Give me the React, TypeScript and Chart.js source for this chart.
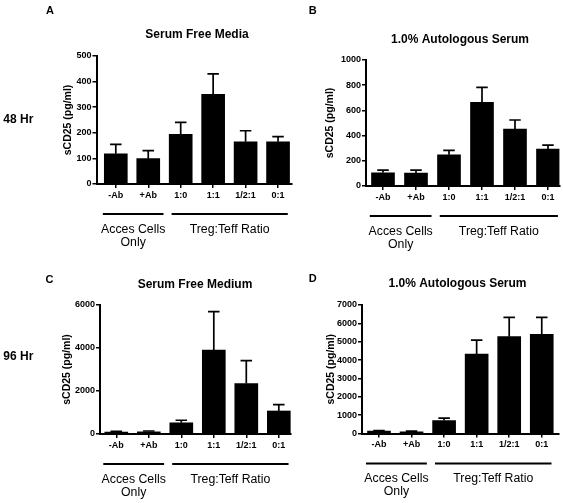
import React, { useEffect, useRef } from "react";
import { Chart, registerables } from "chart.js";

Chart.register(...registerables);

const FONT = "'Liberation Sans', Arial, Helvetica, sans-serif";

// ---------- data ----------
const categories = ["-Ab", "+Ab", "1:0", "1:1", "1/2:1", "0:1"];
const groupLabels = [["Acces Cells", "Only"], ["Treg:Teff Ratio"]];
const groupMembers = [
  [0, 1],
  [2, 5],
];
const yAxisTitle = "sCD25 (pg/ml)";
const rowLabels = ["48 Hr", "96 Hr"];
const panelLetters = ["A", "B", "C", "D"];
const panelTitles = [
  "Serum Free Media",
  "1.0% Autologous Serum",
  "Serum Free Medium",
  "1.0% Autologous Serum",
];

// 48 Hr, serum free media
const meanA = [118, 99, 194, 350, 165, 165];
const semA = [37, 31, 47, 80, 43, 20];
// 48 Hr, 1.0% autologous serum
const meanB = [105, 102, 248, 664, 452, 294];
const semB = [21, 24, 35, 119, 72, 31];
// 96 Hr, serum free medium
const meanC = [90, 100, 520, 3900, 2350, 1070];
const semC = [35, 40, 120, 1790, 1060, 300];
// 96 Hr, 1.0% autologous serum
const meanD = [127, 91, 709, 4327, 5273, 5400];
const semD = [37, 36, 127, 763, 1054, 927];

const yMaxes = [500, 1000, 6000, 7000];
const ySteps = [100, 200, 2000, 1000];

// ---------- layout (page pixels) ----------
const layouts = [
  {
    canvas: { left: 0, top: 0, w: 300, h: 252 },
    area: { l: 96.5, r: 292, t: 56, b: 184 },
    yTitleX: 68,
    titleX: 197,
    titleY: 35,
    x0: 115.8,
    sp: 32.45,
  },
  {
    canvas: { left: 300, top: 0, w: 263, h: 252 },
    area: { l: 366, r: 559.5, t: 60, b: 186 },
    yTitleX: 330,
    titleX: 460,
    titleY: 40,
    x0: 383,
    sp: 33,
  },
  {
    canvas: { left: 0, top: 252, w: 300, h: 251 },
    area: { l: 100, r: 291, t: 305, b: 434 },
    yTitleX: 67,
    titleX: 195,
    titleY: 284.3,
    x0: 116.3,
    sp: 32.5,
  },
  {
    canvas: { left: 300, top: 252, w: 263, h: 251 },
    area: { l: 362, r: 558.5, t: 305, b: 433.5 },
    yTitleX: 331,
    titleX: 457.5,
    titleY: 283.3,
    x0: 379,
    sp: 32.55,
  },
];
const groupPad = [
  [0.4, 0.47],
  [0.28, 0.3],
];
const letterPos = [
  [50, 10],
  [312.7, 10],
  [49.5, 278.5],
  [312.7, 278.3],
];
const rowPos = [
  [18.3, 119.3],
  [18.3, 356],
];

const means = [meanA, meanB, meanC, meanD];
const sems = [semA, semB, semC, semD];

function Panel({ idx }: { idx: number }) {
  const ref = useRef<HTMLCanvasElement>(null);
  const p = layouts[idx];
  useEffect(() => {
    if (!ref.current) return;
    const c = p.canvas;
    const a = p.area;
    const mean = means[idx];
    const sem = sems[idx];
    const L = a.l - c.left;
    const R = a.r - c.left;
    const T = a.t - c.top;
    const B = a.b - c.top;
    const titleSize = 10.5;
    const pl = p.yTitleX - c.left - (titleSize * 1.2) / 2;
    const Wy = L - pl;
    const Hx = 24;
    const pb = c.h - B - Hx;
    const pr = c.w - R;
    const xmin = (a.l - p.x0) / p.sp;
    const xmax = (a.r - p.x0) / p.sp;

    const overlay = {
      id: "overlay",
      afterDatasetsDraw(chart: any) {
        const ctx = chart.ctx;
        const meta = chart.getDatasetMeta(0);
        const ys = chart.scales.y;
        ctx.save();
        ctx.strokeStyle = "#000";
        ctx.lineWidth = 1.7;
        meta.data.forEach((bar: any, i: number) => {
          const top = ys.getPixelForValue(mean[i]);
          const e = ys.getPixelForValue(mean[i] + sem[i]);
          const hw = bar.width / 4;
          ctx.beginPath();
          ctx.moveTo(bar.x, top);
          ctx.lineTo(bar.x, e);
          ctx.moveTo(bar.x - hw, e);
          ctx.lineTo(bar.x + hw, e);
          ctx.stroke();
        });
        ctx.restore();
      },
      afterDraw(chart: any) {
        const ctx = chart.ctx;
        const xs = chart.scales.x;
        const area = chart.chartArea;
        ctx.save();
        ctx.fillStyle = "#000";
        ctx.strokeStyle = "#000";
        ctx.textAlign = "center";
        ctx.textBaseline = "middle";
        ctx.font = `bold 12px ${FONT}`;
        ctx.fillText(panelTitles[idx], p.titleX - c.left, p.titleY - c.top);
        ctx.font = `12.3px ${FONT}`;
        ctx.lineWidth = 2;
        const lineY = area.bottom + 30;
        groupMembers.forEach(([f, l], g) => {
          const x1 = xs.getPixelForValue(f - groupPad[g][0]);
          const x2 = Math.min(xs.getPixelForValue(l + groupPad[g][1]), area.right);
          ctx.beginPath();
          ctx.moveTo(x1, lineY);
          ctx.lineTo(x2, lineY);
          ctx.stroke();
          const mid = (x1 + x2) / 2;
          groupLabels[g].forEach((t, k) => {
            ctx.fillText(t, mid, area.bottom + 45.3 + k * 13.2);
          });
        });
        ctx.restore();
      },
    };

    const tickFont = { family: FONT, size: 9, weight: "bold" as const };
    const chart = new Chart(ref.current, {
      type: "bar",
      data: {
        datasets: [
          {
            data: mean.map((v, i) => ({ x: i, y: v })),
            backgroundColor: "#000",
            borderWidth: 0,
            barThickness: 23,
          },
        ],
      },
      options: {
        animation: false,
        responsive: false,
        devicePixelRatio: 1,
        layout: { padding: { left: pl, right: pr, top: T, bottom: pb } },
        plugins: {
          legend: { display: false },
          tooltip: { enabled: false },
          title: { display: false },
        },
        scales: {
          x: {
            type: "linear",
            min: xmin,
            max: xmax,
            offset: false,
            afterBuildTicks: (s: any) => {
              s.ticks = categories.map((_, i) => ({ value: i }));
            },
            afterFit: (s: any) => {
              s.height = Hx;
            },
            ticks: {
              callback: (v: any) => categories[v] ?? "",
              font: tickFont,
              color: "#000",
              padding: 2,
              maxRotation: 0,
              autoSkip: false,
            },
            grid: {
              display: true,
              drawOnChartArea: false,
              drawTicks: true,
              tickLength: 4,
              color: "#000",
              lineWidth: 1.5,
              offset: false,
            },
            border: { display: true, color: "#000", width: 2 },
          },
          y: {
            type: "linear",
            min: 0,
            max: yMaxes[idx],
            afterFit: (s: any) => {
              s.width = Wy;
            },
            ticks: {
              stepSize: ySteps[idx],
              callback: (v: any) => String(v),
              font: tickFont,
              color: "#000",
              padding: 1,
            },
            grid: {
              display: true,
              drawOnChartArea: false,
              drawTicks: true,
              tickLength: 4,
              color: "#000",
              lineWidth: 1.5,
            },
            border: { display: true, color: "#000", width: 2 },
            title: {
              display: true,
              text: yAxisTitle,
              font: { family: FONT, size: titleSize, weight: "bold" },
              color: "#000",
              padding: 0,
            },
          },
        },
      } as any,
      plugins: [overlay],
    });
    return () => chart.destroy();
  }, [idx]);

  return (
    <canvas
      ref={ref}
      width={p.canvas.w}
      height={p.canvas.h}
      style={{
        position: "absolute",
        left: p.canvas.left,
        top: p.canvas.top,
        width: p.canvas.w,
        height: p.canvas.h,
      }}
    />
  );
}

const labelStyle = (x: number, y: number, size: number): React.CSSProperties => ({
  position: "absolute",
  left: x,
  top: y,
  transform: "translate(-50%, -50%)",
  fontFamily: FONT,
  fontWeight: "bold",
  fontSize: size,
  lineHeight: 1,
  whiteSpace: "nowrap",
  color: "#000",
});

export default function App() {
  return (
    <div
      style={{
        position: "absolute",
        left: 0,
        top: 0,
        width: 563,
        height: 503,
        background: "#fff",
        overflow: "hidden",
      }}
    >
      {layouts.map((_, i) => (
        <Panel key={i} idx={i} />
      ))}
      {panelLetters.map((t, i) => (
        <div key={t} style={labelStyle(letterPos[i][0], letterPos[i][1], 11)}>
          {t}
        </div>
      ))}
      {rowLabels.map((t, i) => (
        <div key={t} style={labelStyle(rowPos[i][0], rowPos[i][1], 12)}>
          {t}
        </div>
      ))}
    </div>
  );
}
